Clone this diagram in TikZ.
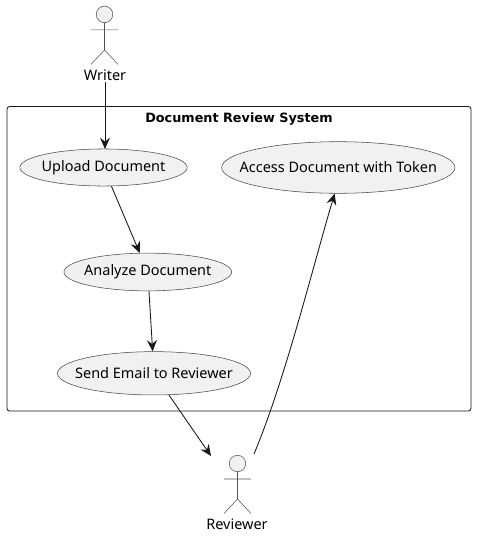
\documentclass[tikz,border=0pt]{standalone}
\usepackage{fontspec}
\setmainfont{Noto Sans}
\newfontfamily\titlefont{DejaVu Sans}
\usetikzlibrary{shapes.geometric,arrows.meta}
\definecolor{ufill}{HTML}{F1F1F1}
\definecolor{uline}{HTML}{181818}
\newcommand{\uctext}[1]{\makebox[0pt]{\raisebox{-0.5pt}{#1}}}
\tikzset{x=0.75pt,y=-0.75pt,
 uc/.style={ellipse,draw=uline!80,fill=ufill,line width=0.4pt,inner sep=0pt,font=\fontsize{10.85}{12}\selectfont},
 lab/.style={inner sep=0pt,font=\fontsize{10.85}{12}\selectfont},
 conn/.style={draw=uline,line width=0.65pt,-{Stealth[length=8.5pt,width=7.5pt,inset=3pt]}},
 stick/.style={draw=uline!75,line width=0.4pt}}
\newcommand{\actor}[2]{%
 \draw[stick,fill=ufill] (#1,#2) circle[radius=6.2pt];
 \draw[stick] (#1,#2+8.3) -- (#1,#2+35.5) (#1-13.5,#2+15.5) -- (#1+13.5,#2+15.5) (#1,#2+35.5) -- (#1-13.5,#2+50) (#1,#2+35.5) -- (#1+13.5,#2+50);}
\begin{document}
\begin{tikzpicture}
\useasboundingbox (0,0) rectangle (476,536);
\draw[uline,line width=0.65pt,rounded corners=2pt] (7,106.5) rectangle (471,411);
\node[lab,font=\titlefont\fontsize{9.6}{12}\selectfont\bfseries] (title) at (239,119) {Document Review System};
\node[uc,minimum width=125.5pt,minimum height=27.8pt] (up) at (103.5,167.5) {\uctext{Upload Document}};
\node[uc,minimum width=175pt,minimum height=38.7pt] (acc) at (338.3,167.5) {\uctext{Access Document with Token}};
\node[uc,minimum width=125.8pt,minimum height=28.3pt] (an) at (147.8,272) {\uctext{Analyze Document}};
\node[uc,minimum width=144.8pt,minimum height=32.5pt] (em) at (154,373.3) {\uctext{Send Email to Reviewer}};
\actor{104.5}{14.4}
\node[lab] (w) at (105,75) {Writer};
\actor{237.5}{463.5}
\node[lab] (r) at (237,524.5) {Reviewer};
\coordinate (wa) at (105,82);
\coordinate (ra) at (211,456);
\coordinate (rb) at (254,454);
\coordinate (ut) at (105,149);
\draw[conn] (wa) -- (ut);
\draw[conn] (up) -- (an);
\draw[conn] (an) -- (em);
\draw[conn] (em) -- (ra);
\draw[conn] (rb) .. controls (285,380) and (312,270) .. (acc.262);
\end{tikzpicture}
\end{document}
